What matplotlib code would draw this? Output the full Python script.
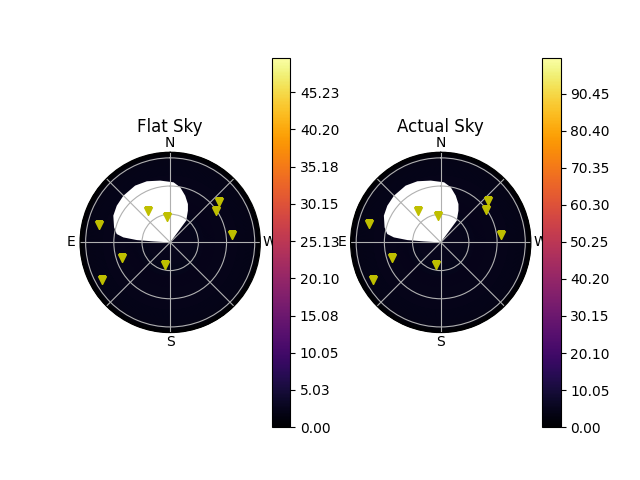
import numpy as np
import matplotlib
matplotlib.use('Agg')
import matplotlib.pyplot as plt

titles = ['Flat Sky', 'Actual Sky']
cbar_top = [49.9, 100.2]
flat_ticks = [0.00, 5.03, 10.05, 15.08, 20.10, 25.13, 30.15, 35.18, 40.20, 45.23]
actual_ticks = [0.00, 10.05, 20.10, 30.15, 40.20, 50.25, 60.30, 70.35, 80.40, 90.45]

# sky brightness vs zenith distance (same at every azimuth)
profile_r = [0.0, 0.4, 0.8, 1.2, 1.47, 1.51, 1.54, 1.57, 1.6]
flat_profile = [2.4, 2.4, 2.3, 2.2, 2.1, 1.8, 0.9, 0.2, 0.0]
actual_profile = [4.8, 4.8, 4.6, 4.4, 4.2, 3.6, 1.8, 0.4, 0.0]

# blanked (NaN) region, azimuth in degrees / zenith distance
mask_az = [0, -36.4, -29.2, -24.8, -17.8, -10.3, -3.2, 9.2, 20.9, 31.7, 45.0,
           55.5, 64.8, 75.0, 81.1, 83.9, 86.0, 86.6]
mask_r = [0.0, 0.48, 0.645, 0.75, 0.871, 0.994, 1.068, 1.111, 1.161, 1.184,
          1.173, 1.15, 1.115, 1.031, 0.96, 0.836, 0.594, 0.297]

# stars
flat_az = [310.1, 304.6, 276.9, 35.0, 6.0, 75.9, 108.4, 118.9, 168.3]
flat_zen = [1.124, 0.994, 1.097, 0.672, 0.459, 1.296, 0.900, 1.381, 0.411]
actual_az = [310.9, 305.4, 277.3, 36.0, 6.6, 75.9, 107.8, 118.7, 167.4]
actual_zen = [1.118, 0.980, 1.080, 0.687, 0.465, 1.317, 0.915, 1.376, 0.404]

profiles = [flat_profile, actual_profile]
ticks = [flat_ticks, actual_ticks]
stars = [(flat_az, flat_zen), (actual_az, actual_zen)]

fig, axes = plt.subplots(1, 2, subplot_kw={'projection': 'polar'})
theta_nodes = np.radians(np.linspace(0, 360, 361))

for i, ax in enumerate(axes):
    T, R = np.meshgrid(theta_nodes, profile_r)
    C = np.tile(np.array(profiles[i])[:, None], (1, len(theta_nodes)))
    mesh = ax.pcolormesh(T, R, C, cmap='inferno', vmin=0, vmax=cbar_top[i],
                         shading='gouraud')
    ax.fill(np.radians(mask_az), mask_r, color='white', lw=0)
    ax.plot(np.radians(stars[i][0]), stars[i][1], 'yv')
    ax.set_theta_zero_location('N')
    ax.set_thetagrids(range(0, 360, 45), ['N', '', 'E', '', 'S', '', 'W', ''])
    ax.tick_params(axis='x', pad=-4)
    ax.set_rgrids([0.5, 1.0, 1.5], labels=['', '', ''])
    ax.set_rlim(0, 1.6)
    ax.grid(True)
    ax.set_title(titles[i], pad=0)
    fig.colorbar(mesh, ax=ax, ticks=ticks[i], format='%.2f')

plt.savefig('out.png')
